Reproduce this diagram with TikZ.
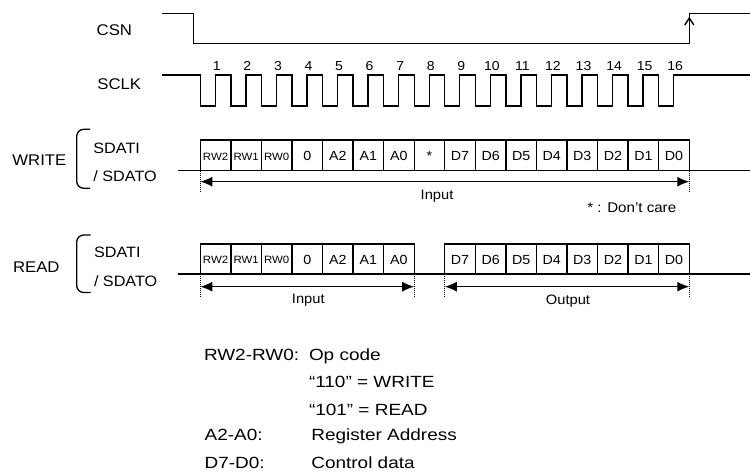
\documentclass[tikz,border=0pt]{standalone}
\usepackage{fontspec}
\setmainfont{Liberation Sans}[FakeStretch=1.08]
\newfontfamily\legf{Liberation Sans}[FakeStretch=1.17]
\usetikzlibrary{arrows.meta}
\newcommand\rwf{\fontsize{10.6}{12}\selectfont}
\begin{document}
\begin{tikzpicture}[x=1pt,y=-1pt,line width=1.4pt,
  sig/.style={line width=1.4pt,line join=miter},
  dots/.style={line width=0.9pt,dash pattern=on 1pt off 1pt},
  dbl/.style={line width=1.4pt,{Latex[length=12pt,width=10pt]}-{Latex[length=12pt,width=10pt]}},
  lbl/.style={inner sep=0,anchor=base west,font=\fontsize{15.5}{18}\selectfont},
  sublbl/.style={inner sep=0,anchor=base west,font=\fontsize{15}{18}\selectfont},
  num/.style={inner sep=0,anchor=base,font=\fontsize{13}{15}\selectfont},
  boxtxt/.style={inner sep=0,anchor=base,font=\fontsize{13.2}{15}\selectfont},
  io/.style={inner sep=0,anchor=base,font=\fontsize{13.6}{15}\selectfont},
  leg/.style={inner sep=0,anchor=base west,font=\legf\fontsize{16.2}{19}\selectfont}]
\useasboundingbox (0,0) rectangle (750,473);
\def\xs{200.3}
\def\st{30.56}
% ---------- CSN ----------
\node[lbl] (csn) at (96,36) {CSN};
\draw[sig] (162,13.3) -- (193.3,13.3) -- (193.3,43.3) -- (689.3,43.3) -- (689.3,13.3) -- (750,13.3);
\draw[sig] (684.8,25) -- (689.3,18) -- (693.8,25);
% ---------- SCLK ----------
\node[lbl] (sclk) at (96.7,89.3) {SCLK};
\draw[sig] (162,75) -- (\xs,75)
  \foreach \k in {0,...,15}{ -- ++(0,31) -- ++(15,0) -- ++(0,-31) -- ++(\st-15,0)} -- (750,75);
\foreach \k in {1,...,16}
  \node[num] (n\k) at ({\xs+16.5+\st*(\k-1)},70.7) {\k};
% ---------- WRITE ----------
\node[lbl] (write) at (11.7,166) {WRITE};
\node[sublbl] (wsi) at (92.7,153.3) {SDATI};
\node[sublbl] (wso) at (92.7,181.7) {/ SDATO};
\draw[line width=1.3pt,rounded corners=7pt] (90,129.3) -- (76.7,129.3) -- (76.7,188.3) -- (90,188.3);
\draw[sig] (178.3,170.7) -- (\xs,170.7);
\draw[sig] ({\xs+16*\st},170.7) -- (750,170.7);
\draw[sig] (\xs,140) rectangle ({\xs+16*\st},170.7);
\foreach \k in {1,...,15} \draw[sig] ({\xs+\st*\k},140) -- ({\xs+\st*\k},170.7);
\foreach \t [count=\i from 0] in {RW2,RW1,RW0}
  \node[boxtxt,font=\rwf] at ({\xs+\st*(\i+0.5)},160.1) {\t};
\foreach \t [count=\i from 3] in {0,A2,A1,A0,*,D7,D6,D5,D4,D3,D2,D1,D0}
  \node[boxtxt] at ({\xs+\st*(\i+0.5)},161) {\t};
\coordinate (wl) at (\xs,181.7);
\coordinate (wr) at ({\xs+16*\st},181.7);
\draw[dots] (\xs,170.7) -- (\xs,192);
\draw[dots] ({\xs+16*\st},170.7) -- ({\xs+16*\st},192);
\draw[dbl] (wl) -- (wr);
\node[io] (win) at (437,200) {Input};
\node[inner sep=0,anchor=base west,font=\fontsize{14}{16}\selectfont] (dc) at (586.7,213) {* : Don’t care};
% ---------- READ ----------
\node[lbl] (read) at (12.3,272.7) {READ};
\node[sublbl] (rsi) at (93.3,257.3) {SDATI};
\node[sublbl] (rso) at (93.3,286.7) {/ SDATO};
\draw[line width=1.3pt,rounded corners=7pt] (90.7,235) -- (76.7,235) -- (76.7,292.5) -- (90.7,292.5);
\draw[sig] (178.3,274) -- (\xs,274);
\draw[sig] ({\xs+7*\st},274) -- ({\xs+8*\st},274);
\draw[sig] ({\xs+16*\st},274) -- (750,274);
\draw[sig] (\xs,244) rectangle ({\xs+7*\st},274);
\draw[sig] ({\xs+8*\st},244) rectangle ({\xs+16*\st},274);
\foreach \k in {1,...,6} \draw[sig] ({\xs+\st*\k},244) -- ({\xs+\st*\k},274);
\foreach \k in {9,...,15} \draw[sig] ({\xs+\st*\k},244) -- ({\xs+\st*\k},274);
\foreach \t [count=\i from 0] in {RW2,RW1,RW0}
  \node[boxtxt,font=\rwf] at ({\xs+\st*(\i+0.5)},263.8) {\t};
\foreach \t [count=\i from 3] in {0,A2,A1,A0}
  \node[boxtxt] at ({\xs+\st*(\i+0.5)},264.7) {\t};
\foreach \t [count=\i from 8] in {D7,D6,D5,D4,D3,D2,D1,D0}
  \node[boxtxt] at ({\xs+\st*(\i+0.5)},264.7) {\t};
\coordinate (ril) at (\xs,286.7);
\coordinate (rir) at ({\xs+7*\st},286.7);
\coordinate (rol) at ({\xs+8*\st},286.7);
\coordinate (ror) at ({\xs+16*\st},286.7);
\foreach \k in {0,7,8,16} \draw[dots] ({\xs+\k*\st},274) -- ({\xs+\k*\st},297);
\draw[dbl] (ril) -- (rir);
\draw[dbl] (rol) -- (ror);
\node[io] (rin) at (308.3,304) {Input};
\node[io] (rout) at (568,305) {Output};
% ---------- Legend ----------
\node[leg] (l1) at (203.3,360.7) {RW2-RW0:};
\node[leg] (l1b) at (308.3,360.7) {Op code};
\node[leg] (l2) at (308.3,387.7) {“110” = WRITE};
\node[leg] (l3) at (308.3,415) {“101” = READ};
\node[leg] (l4) at (204,440.7) {A2-A0:};
\node[leg] (l4b) at (310.7,440.7) {Register Address};
\node[leg] (l5) at (204,468.3) {D7-D0:};
\node[leg] (l5b) at (310.7,468.3) {Control data};
\end{tikzpicture}
\end{document}
